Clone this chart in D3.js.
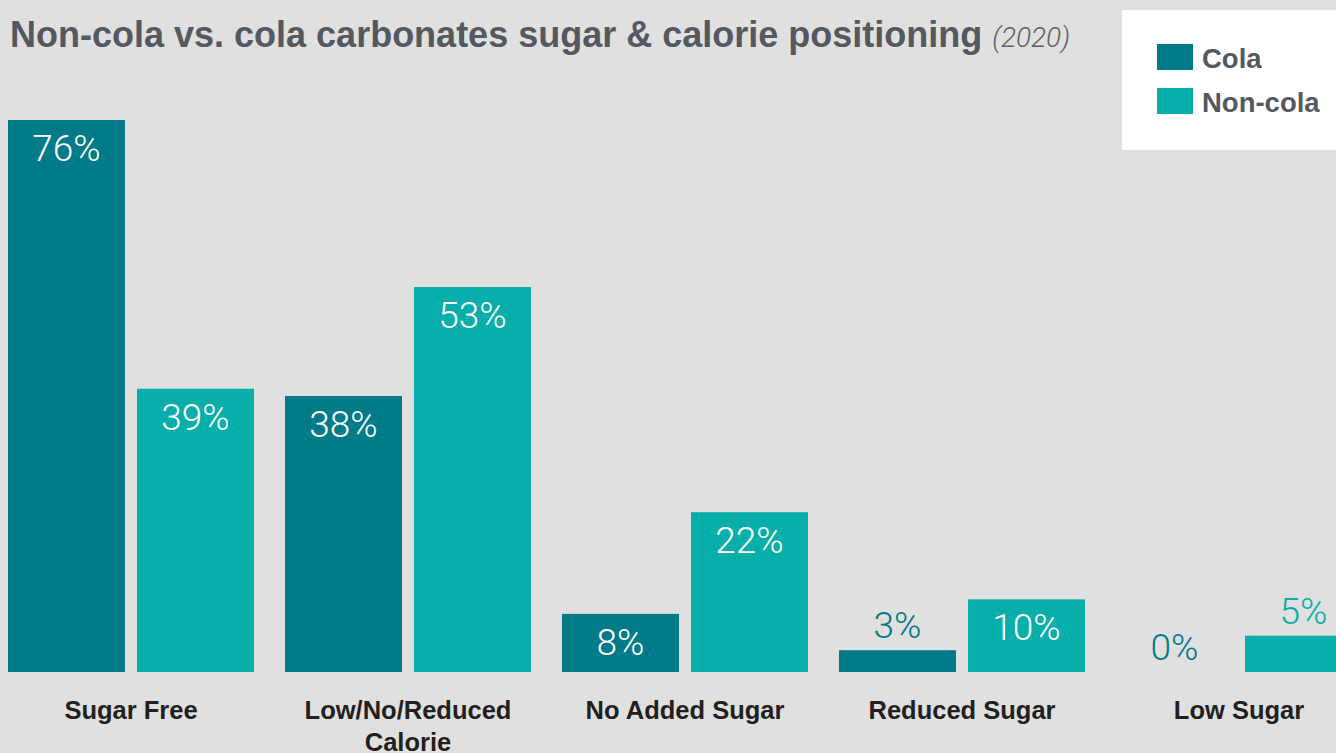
<!DOCTYPE html>
<html>
<head>
<meta charset="utf-8">
<script src="https://cdn.jsdelivr.net/npm/d3@7"></script>
<style>
  html, body { margin: 0; padding: 0; background: #dfe0df; }
  svg { display: block; }
</style>
</head>
<body>
<svg id="chart" width="1336" height="753"></svg>
<script>
// Share of launches by sugar / calorie claim, 2020
const categories = ["Sugar Free", "Low/No/Reduced Calorie", "No Added Sugar", "Reduced Sugar", "Low Sugar"];
const seriesNames = ["Cola", "Non-cola"];
const colaValues = [76, 38, 8, 3, 0];
const nonColaValues = [39, 53, 22, 10, 5];
const seriesColors = ["#017b87", "#08aea9"];

const titleText = "Non-cola vs. cola carbonates sugar & calorie positioning";
const titleNote = "(2020)";

const width = 1336, height = 753;
const baseY = 672, topY = 120;

const svg = d3.select("#chart");
svg.append("rect").attr("width", width).attr("height", height).attr("fill", "#dfe0df");

const rows = categories.map((c, i) => ({ category: c, values: [colaValues[i], nonColaValues[i]] }));

const x0 = d3.scaleBand().domain(categories).range([8, 1362]).paddingInner(0.112).paddingOuter(0);
const x1 = d3.scaleBand().domain(seriesNames).range([0, x0.bandwidth()]).paddingInner(0.093).paddingOuter(0);
const y = d3.scaleLinear().domain([0, d3.max(colaValues.concat(nonColaValues))]).range([baseY, topY]);
const color = d3.scaleOrdinal().domain(seriesNames).range(seriesColors);

// Bars
const groups = svg.append("g").selectAll("g").data(rows).join("g")
  .attr("transform", d => `translate(${x0(d.category)},0)`);

const cells = groups.selectAll("g").data(d => d.values.map((v, j) => ({ name: seriesNames[j], value: v })))
  .join("g");

cells.append("rect")
  .attr("x", d => x1(d.name))
  .attr("y", d => y(d.value))
  .attr("width", x1.bandwidth())
  .attr("height", d => baseY - y(d.value))
  .attr("fill", d => color(d.name));

// Value labels: inside the bar when tall enough, otherwise above it
const labelFont = "Roboto, 'Liberation Sans', sans-serif";
const fitsInside = d => baseY - y(d.value) > 50;
cells.append("text")
  .attr("x", d => x1(d.name) + x1.bandwidth() / 2)
  .attr("y", d => fitsInside(d) ? y(d.value) + 41 : y(d.value) - 12)
  .attr("text-anchor", "middle")
  .attr("font-family", labelFont)
  .attr("font-weight", 300)
  .attr("font-size", 37)
  .attr("fill", d => fitsInside(d) ? "#ffffff" : color(d.name))
  .text(d => d.value + "%");

// Category axis
const axis = svg.append("g")
  .attr("transform", `translate(0,${baseY})`)
  .call(d3.axisBottom(x0).tickSize(0).tickPadding(0));
axis.select(".domain").remove();
axis.selectAll("text")
  .attr("font-family", "'Liberation Sans', Arial, sans-serif")
  .attr("font-weight", "bold")
  .attr("font-size", 25.5)
  .attr("fill", "#231f20")
  .attr("dy", null)
  .attr("y", 47)
  .each(function(d) {
    const t = d3.select(this);
    const words = d.split(" ");
    t.text(null);
    const lines = [[]];
    const tmp = t.append("tspan");
    words.forEach(w => {
      const cur = lines[lines.length - 1];
      tmp.text(cur.concat([w]).join(" "));
      if (cur.length && tmp.node().getComputedTextLength() > 235) lines.push([w]);
      else cur.push(w);
    });
    tmp.remove();
    lines.forEach((ln, i) => {
      t.append("tspan").attr("x", 0).attr("dy", i === 0 ? 0 : 32).text(ln.join(" "));
    });
  });

// Title
const title = svg.append("text")
  .attr("x", 10).attr("y", 47)
  .attr("font-family", "'Liberation Sans', Arial, sans-serif")
  .attr("font-weight", "bold")
  .attr("font-size", 36)
  .attr("fill", "#54585f")
  .text(titleText);
title.append("tspan")
  .attr("dx", 10)
  .attr("font-weight", 300)
  .attr("font-style", "italic")
  .attr("font-size", 28)
  .attr("font-family", "Roboto, 'Liberation Sans', sans-serif")
  .attr("fill", "#5d6168")
  .text(titleNote);

// Legend
const legend = svg.append("g");
legend.append("rect").attr("x", 1122).attr("y", 10).attr("width", 230).attr("height", 140).attr("fill", "#ffffff");
const li = legend.selectAll("g").data(seriesNames).join("g")
  .attr("transform", (d, i) => `translate(1157,${44 + i * 44})`);
li.append("rect").attr("width", 36).attr("height", 26).attr("fill", d => color(d));
li.append("text")
  .attr("x", 45).attr("y", 24)
  .attr("font-family", "'Liberation Sans', Arial, sans-serif")
  .attr("font-weight", "bold")
  .attr("font-size", 27.5)
  .attr("fill", "#54585f")
  .text(d => d);
</script>
</body>
</html>
